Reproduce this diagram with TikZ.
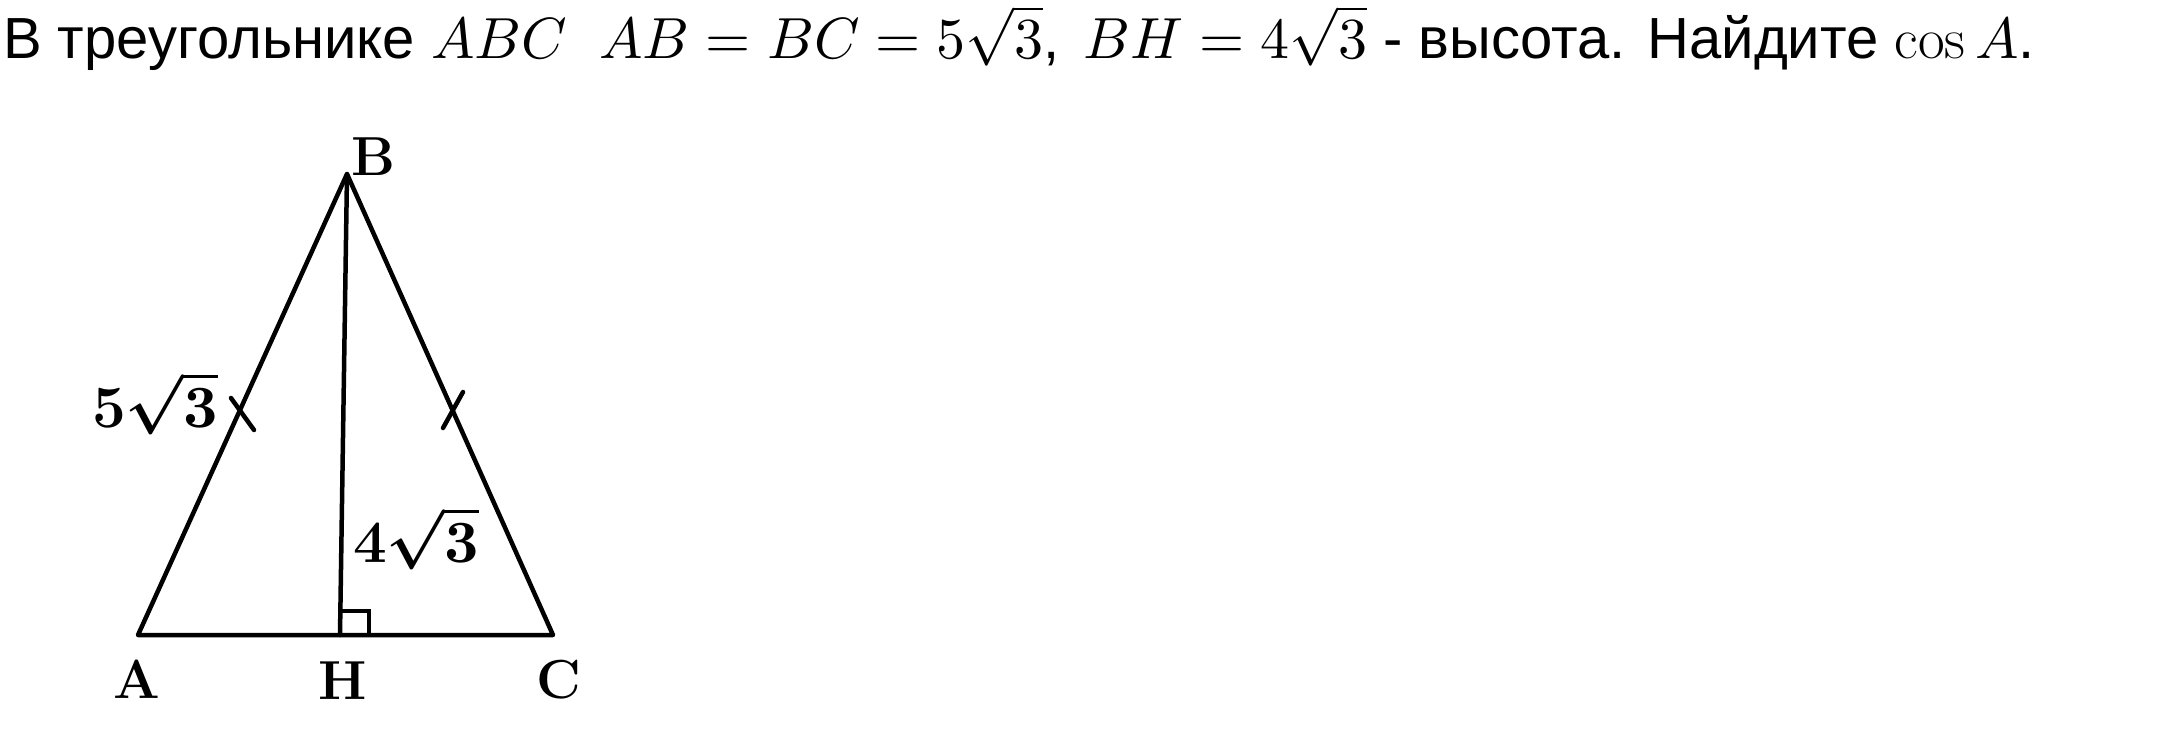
\documentclass[tikz,border=0pt]{standalone}
\usepackage{fontspec}
\setsansfont{Liberation Sans}
\DeclareFontShape{OML}{cmm}{m}{it}{<->cmmi10}{}
\DeclareFontShape{OML}{cmm}{b}{it}{<->cmmib10}{}
\DeclareFontShape{OMS}{cmsy}{m}{n}{<->cmsy10}{}
\DeclareFontShape{OMS}{cmsy}{b}{n}{<->cmbsy10}{}
\DeclareFontShape{OMX}{cmex}{m}{n}{<->cmex10}{}
\DeclareFontShape{OT1}{cmr}{m}{n}{<->cmr10}{}
\DeclareFontShape{OT1}{cmr}{bx}{n}{<->cmbx10}{}
\begin{document}
\begin{tikzpicture}[x=1pt,y=-1pt,
  side/.style={line width=4.5pt,line cap=round,line join=round},
  lab/.style={inner sep=0pt,font=\fontsize{55}{60}\selectfont\bfseries},
  num/.style={inner sep=0pt,font=\fontsize{60}{66}\selectfont\bfseries\boldmath},
  tick/.style={line width=4.5pt,line cap=round}]
\useasboundingbox (0,0) rectangle (2175,737);
\node[inner sep=0pt,anchor=base west,font=\fontsize{58}{66}\selectfont\sffamily] (title) at (3,58)
 {В треугольнике $ABC$\ \ $AB=BC=5\sqrt{3}$,\ \hspace{8pt}$BH=4\sqrt{3}$ - высота. Найдите $\cos A$.};
\coordinate (A) at (138,635);
\coordinate (B) at (347,174);
\coordinate (C) at (553,635);
\coordinate (H) at (340,635);
\draw[side] (A) -- (B) -- (C) -- cycle;
\draw[side] (B) -- (H);
\draw[line width=4pt] (340,611) -- (369,611) -- (369,635);
\coordinate (t1a) at (231,398); \coordinate (t1b) at (254,430);
\coordinate (t2a) at (463,392); \coordinate (t2b) at (443,428);
\draw[tick] (t1a) -- (t1b);
\draw[tick] (t2a) -- (t2b);
\node[lab] (lB) at (373,157) {B};
\node[lab] (lA) at (137,679) {A};
\node[lab] (lH) at (343,681) {H};
\node[lab] (lC) at (559,680) {C};
\node[num] (l5) at (155,403) {5$\sqrt{3}$};
\node[num] (l4) at (416,538) {4$\sqrt{3}$};
\end{tikzpicture}
\end{document}
